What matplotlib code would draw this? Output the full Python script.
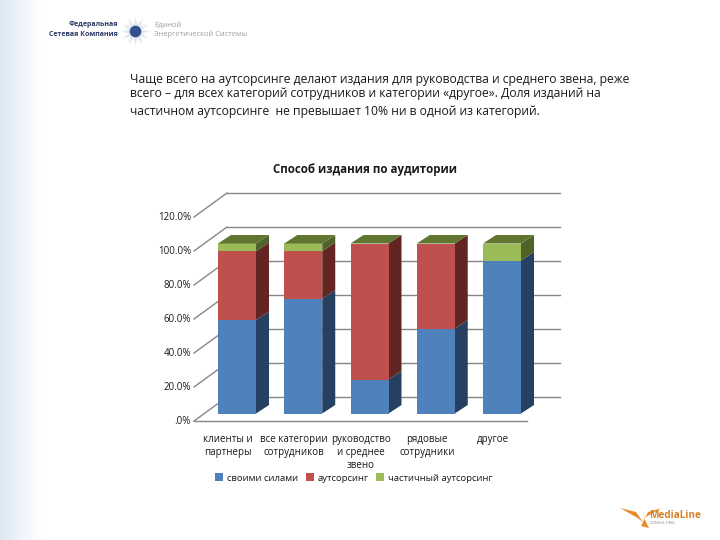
import numpy as np
import matplotlib
matplotlib.use('Agg')
import matplotlib.pyplot as plt
from matplotlib.patches import Polygon

plt.rcParams['font.family'] = ['Open Sans', 'DejaVu Sans']

# значения, %
categories = ['клиенты и\nпартнеры', 'все категории\nсотрудников', 'руководство\nи среднее\nзвено',
              'рядовые\nсотрудники', 'другое']
own = [55.0, 67.5, 20.0, 50.0, 90.0]
outsourcing = [40.5, 28.0, 80.0, 50.0, 0.0]
partial = [4.5, 4.5, 0.0, 0.0, 10.0]
series_names = ['своими силами', 'аутсорсинг', 'частичный аутсорсинг']
grid_values = [0, 20, 40, 60, 80, 100, 120]
grid_labels = ['.0%', '20.0%', '40.0%', '60.0%', '80.0%', '100.0%', '120.0%']

title = 'Способ издания по аудитории'
intro = ['Чаще всего на аутсорсинге делают издания для руководства и среднего звена, реже',
         'всего – для всех категорий сотрудников и категории «другое». Доля изданий на',
         'частичном аутсорсинге  не превышает 10% ни в одной из категорий.']

colors = ['#4F81BD', '#C0504D', '#9BBB59']
side_colors = ['#254061', '#632523', '#4F6228']
top_color = '#5F7530'
grid_color = '#868686'

# масштаб: пикселей на единицу
px_x = 66.25
px_y = 1.7
dx = 13 / px_x   # глубина столбика
dy = 8.5 / px_y
width = 38 / px_x

fig = plt.figure(figsize=(7.2, 5.4), dpi=100)

# фон слайда с голубой полосой слева
bg = fig.add_axes([0, 0, 1, 1], zorder=0)
bg.set_xlim(0, 720)
bg.set_ylim(540, 0)
bg.axis('off')
fade = np.clip(1 - np.arange(720) / 46, 0, 1) ** 1.3
rgb = np.ones((1, 720, 3))
rgb[0, :, 0] = 1 - fade * 0.14
rgb[0, :, 1] = 1 - fade * 0.09
rgb[0, :, 2] = 1 - fade * 0.04
bg.imshow(rgb, extent=(0, 720, 540, 0), aspect='auto')

# логотипы
bg.text(118, 25, 'Федеральная', ha='right', va='center', fontsize=5.0, color='#2A3A66', fontweight='bold')
bg.text(118, 34, 'Сетевая Компания', ha='right', va='center', fontsize=5.0, color='#2A3A66', fontweight='bold')
bg.text(154, 25, 'Единой', ha='left', va='center', fontsize=5.4, color='#9A9FA6')
bg.text(154, 34, 'Энергетической Системы', ha='left', va='center', fontsize=5.4, color='#9A9FA6')
bg.scatter([135], [31], s=420, marker=(12, 1, 0), color='#E4E8EE', linewidths=0)
bg.scatter([135], [31], s=70, marker='o', color='#33508C', linewidths=0)
bg.add_patch(Polygon([(620, 508), (636, 512), (643, 522), (636, 517)], color='#E98B2A', lw=0))
bg.add_patch(Polygon([(662, 508), (648, 512), (641, 526), (649, 528), (644, 518)], color='#E98B2A', lw=0))
bg.text(649, 516, 'MediaLine', ha='left', va='center', fontsize=7.2, color='#D9802B', fontweight='bold')
bg.text(650, 522.5, 'CONSULTING', ha='left', va='center', fontsize=3, color='#8A8A8A')

# текст над диаграммой
for y, line in zip([79, 94, 112], intro):
    bg.text(130, y, line, ha='left', va='center', fontsize=8.7, color='#1A1A1A')

# диаграмма: категория i в центре 237 + 66.25*i, нуль столбиков на 413.5 px
ax = fig.add_axes([0, 0, 1, 1], zorder=1)
ax.set_xlim(-237 / px_x, (720 - 237) / px_x)
ax.set_ylim(-(540 - 413.5) / px_y, 413.5 / px_y)
ax.axis('off')
ax.patch.set_alpha(0)

x = np.arange(len(categories))
front_y0 = -7.5 / px_y
wall_dx = 33 / px_x
wall_dy = 24 / px_y
left = (194 - 237) / px_x
right = (527 - 237) / px_x

# сетка: диагонали и линии задней стенки
for v in grid_values:
    y0 = v + front_y0
    ax.plot([left, left + wall_dx], [y0, y0 + wall_dy], color=grid_color, lw=1, zorder=1)
    ax.plot([left + wall_dx, right + wall_dx], [y0 + wall_dy, y0 + wall_dy], color=grid_color, lw=1, zorder=1)
ax.plot([left, right], [front_y0, front_y0], color=grid_color, lw=1, zorder=1)

for v, label in zip(grid_values, grid_labels):
    ax.text(left - 3 / px_x, v + front_y0, label, ha='right', va='center', fontsize=7, color='#1A1A1A')

# столбики
bottom = np.zeros(len(categories))
handles = []
for vals, name, c, sc in zip([own, outsourcing, partial], series_names, colors, side_colors):
    vals = np.array(vals)
    for xi, b, v in zip(x, bottom, vals):
        if v == 0:
            continue
        xr = xi + width / 2
        ax.add_patch(Polygon([(xr, b), (xr + dx, b + dy), (xr + dx, b + v + dy), (xr, b + v)],
                             color=sc, lw=0, zorder=3))
    h = ax.bar(x, vals, width, bottom=bottom, color=c, lw=0, zorder=4, label=name)
    handles.append(h)
    bottom = bottom + vals

# верхняя грань
for xi, t in zip(x, bottom):
    xl, xr = xi - width / 2, xi + width / 2
    ax.add_patch(Polygon([(xl, t), (xr, t), (xr + dx, t + dy), (xl + dx, t + dy)],
                         color=top_color, lw=0, zorder=5))

# подписи категорий
for xi, cat in zip(x, categories):
    ax.text(xi - 9 / px_x, -12, cat, ha='center', va='top', fontsize=7,
            color='#1A1A1A', linespacing=1.25)

ax.text(128 / px_x, 243.5 / px_y, title, ha='center', va='center', fontsize=8.3,
        fontweight='bold', color='#1A1A1A')

ax.legend(handles=handles, loc='center', bbox_to_anchor=(354 / 720, 1 - 478 / 540),
          bbox_transform=fig.transFigure, ncol=3, frameon=False, fontsize=6.8,
          handlelength=0.85, handleheight=0.85, handletextpad=0.4, columnspacing=0.8,
          labelcolor='#1A1A1A', borderpad=0)

fig.savefig('out.png', dpi=100)
